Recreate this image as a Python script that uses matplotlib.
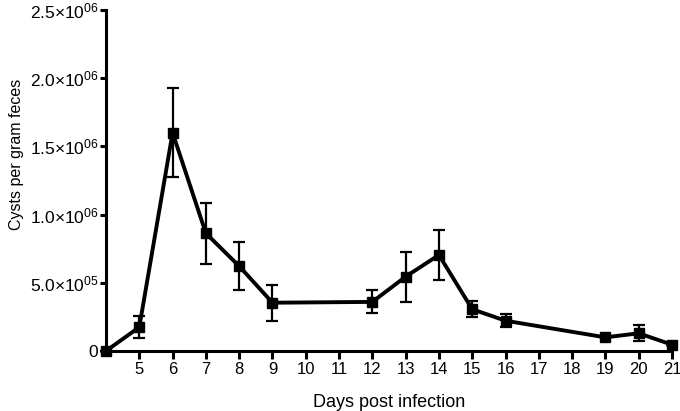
import matplotlib
matplotlib.use('Agg')
import matplotlib.pyplot as plt
import numpy as np

# --- data ---
days = [4, 5, 6, 7, 8, 9, 12, 13, 14, 15, 16, 19, 20, 21]
cysts = [0, 1.75e5, 1.60e6, 8.63e5, 6.22e5, 3.54e5, 3.60e5, 5.45e5, 7.04e5,
         3.06e5, 2.22e5, 1.00e5, 1.30e5, 4.6e4]
sem = [0, 8.0e4, 3.25e5, 2.25e5, 1.75e5, 1.33e5, 8.5e4, 1.83e5, 1.86e5,
       5.7e4, 4.7e4, 0, 5.8e4, 0]

xticks = list(range(5, 22))
yticks = [0, 5e5, 1e6, 1.5e6, 2e6, 2.5e6]
ytick_labels = ['0', '5.0×10$^{05}$', '1.0×10$^{06}$', '1.5×10$^{06}$',
                '2.0×10$^{06}$', '2.5×10$^{06}$']

plt.rcParams['font.family'] = ['Liberation Sans', 'DejaVu Sans']
plt.rcParams['mathtext.fontset'] = 'custom'
plt.rcParams['mathtext.rm'] = 'Liberation Sans'
plt.rcParams['mathtext.it'] = 'Liberation Sans:italic'
plt.rcParams['mathtext.bf'] = 'Liberation Sans:bold'

fig = plt.figure(figsize=(6.8, 4.11), dpi=100)
ax = fig.add_axes([106 / 680, 60 / 411, 566 / 680, 341 / 411])

ax.errorbar(days, cysts, yerr=sem, color='black', lw=2.8, marker='s',
            markersize=7.5, ecolor='black', elinewidth=1.6, capsize=4.5,
            capthick=1.6, clip_on=False, zorder=3)

ax.set_xlim(4, 21)
ax.set_ylim(0, 2.5e6)
ax.set_xticks(xticks)
ax.set_xticklabels([str(d) for d in xticks])
ax.set_yticks(yticks)
ax.set_yticklabels(ytick_labels)

for s in ['top', 'right']:
    ax.spines[s].set_visible(False)
for s in ['left', 'bottom']:
    ax.spines[s].set_linewidth(2.2)

ax.tick_params(axis='x', length=6, width=2.2, labelsize=12, pad=2)
ax.tick_params(axis='y', length=4.5, width=2.2, labelsize=12.5, pad=1)

ax.set_xlabel('Days post infection', fontsize=13, labelpad=12)
ax.set_ylabel('Cysts per gram feces', fontsize=11.5)
ax.yaxis.set_label_coords(-0.145, 0.578)

fig.savefig('out.png', dpi=100)
